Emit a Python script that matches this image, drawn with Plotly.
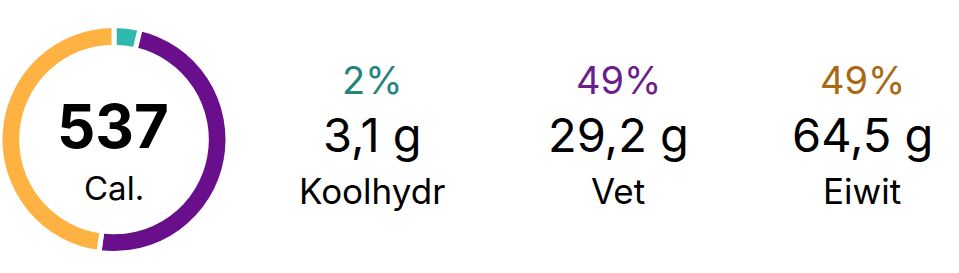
import plotly.graph_objects as go

W, H = 959, 273

# Ring segments (arc shares as seen in the picture, clockwise from 12 o'clock)
ring_labels = ["Koolhydr", "Vet", "Eiwit"]
ring_values = [3.7, 48.4, 47.9]
ring_colors = ["#2FB8AD", "#6A0F8C", "#FDB241"]

# Macro columns
macro_names = ["Koolhydr", "Vet", "Eiwit"]
macro_pct = ["2%", "49%", "49%"]
macro_grams = ["3,1 g", "29,2 g", "64,5 g"]
pct_colors = ["#25857D", "#6B1F8C", "#A96814"]

calories = "537"
cal_unit = "Cal."

FONT = "Inter, Roboto, sans-serif"

def px_x(x):
    return x / W

def px_y(y):
    return 1 - y / H

fig = go.Figure()
fig.add_trace(go.Pie(
    labels=ring_labels,
    values=ring_values,
    sort=False,
    direction="clockwise",
    rotation=0,
    hole=0.81,
    marker=dict(colors=ring_colors, line=dict(color="white", width=5)),
    textinfo="none",
    hoverinfo="skip",
    showlegend=False,
    domain=dict(x=[px_x(0), px_x(228)], y=[px_y(253.5), px_y(25.5)]),
))

annotations = [
    dict(text=f"<b>{calories}</b>", x=px_x(113), y=px_y(126), font=dict(size=60, color="#000000", family=FONT)),
    dict(text=cal_unit, x=px_x(113.5), y=px_y(188), font=dict(size=33, color="#000000", family=FONT)),
]
col_x = [372, 618, 862]
for i in range(3):
    annotations.append(dict(text=macro_pct[i], x=px_x(col_x[i]), y=px_y(80),
                            font=dict(size=38, color=pct_colors[i], family=FONT)))
    annotations.append(dict(text=macro_grams[i], x=px_x(col_x[i]), y=px_y(134),
                            font=dict(size=47, color="#000000", family=FONT)))
    annotations.append(dict(text=macro_names[i], x=px_x(col_x[i]), y=px_y(191),
                            font=dict(size=35, color="#000000", family=FONT)))

for a in annotations:
    a.update(xref="paper", yref="paper", xanchor="center", yanchor="middle", showarrow=False)

fig.update_layout(
    width=W, height=H,
    margin=dict(l=0, r=0, t=0, b=0),
    paper_bgcolor="white", plot_bgcolor="white",
    annotations=annotations,
)

fig.write_html("out.html")
